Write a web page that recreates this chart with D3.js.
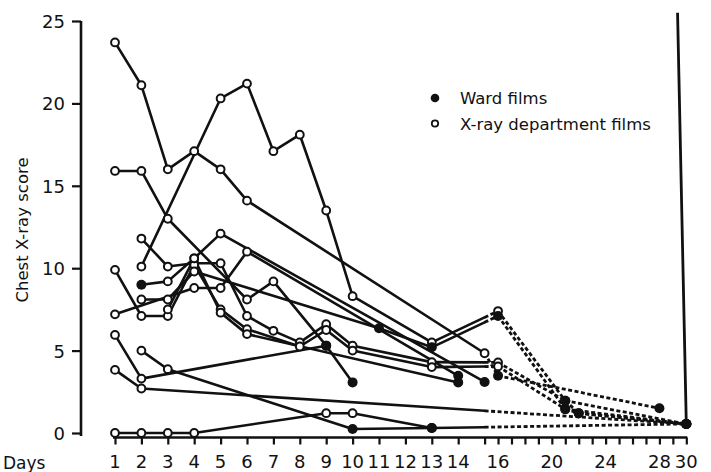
<!DOCTYPE html>
<html>
<head>
<meta charset="utf-8">
<script src="https://cdn.jsdelivr.net/npm/d3@7"></script>
<style>
  body { margin: 0; background: #fff; }
  svg text { font-family: "DejaVu Sans", sans-serif; fill: #111; }
</style>
</head>
<body>
<div id="chart"></div>
<script>
// one array per patient: [day, score, film]  ('w' = ward film, 'x' = X-ray department film)
const p1  = [[1,23.7,'x'],[2,21.1,'x'],[3,16.0,'x'],[4,17.1,'x'],[5,16.0,'x'],[6,14.1,'x'],[15,4.84,'x'],[16,3.47,'w'],[28,1.5,'w']];
const p2  = [[1,15.9,'x'],[2,15.9,'x'],[3,13.0,'x'],[6,8.1,'x'],[7,9.2,'x'],[9,5.3,'w'],[10,3.07,'w']];
const p3  = [[2,10.1,'x'],[5,20.3,'x'],[6,21.2,'x'],[7,17.1,'x'],[8,18.1,'x'],[9,13.5,'x'],[10,8.3,'x'],[13,5.5,'x'],[16,7.4,'x'],[21,1.96,'w'],[22,1.2,'w'],[30,0.55,'w']];
const p4  = [[2,11.8,'x'],[3,10.1,'x'],[4,10.3,'x'],[5,10.3,'x'],[6,7.1,'x'],[7,6.2,'x'],[8,5.5,'x'],[9,6.6,'x'],[10,5.3,'x'],[13,4.3,'x'],[16,4.28,'x'],[21,1.96,'w'],[30,0.55,'w']];
const p5  = [[1,9.9,'x'],[2,7.1,'x'],[3,7.1,'x'],[4,10.2,'x'],[5,7.5,'x'],[6,6.3,'x'],[8,5.25,'x'],[9,6.25,'x'],[10,5.0,'x'],[13,4.0,'x'],[16,4.04,'x'],[21,1.45,'w'],[22,1.2,'w'],[30,0.55,'w']];
const p6  = [[2,9.0,'w'],[3,9.2,'x'],[4,10.6,'x'],[5,12.1,'x'],[15,3.1,'w']];
const p7  = [[2,8.1,'x'],[3,8.1,'x'],[4,9.8,'x'],[11,6.36,'w'],[13,5.2,'w'],[16,7.1,'w'],[21,1.45,'w'],[30,0.55,'w']];
const p8  = [[3,7.5,'x'],[4,10.6,'x'],[5,7.3,'x'],[6,6.0,'x'],[14,3.07,'w']];
const p9  = [[1,7.2,'x'],[4,8.8,'x'],[5,8.8,'x'],[6,11.0,'x'],[14,3.47,'w']];
const p10 = [[1,5.95,'x'],[2,3.3,'x'],[9,5.3,'w']];
const p11 = [[2,5.0,'x'],[3,3.87,'x'],[10,0.24,'w'],[13,0.3,'w']];
const p12 = [[1,3.83,'x'],[2,2.7,'x'],[30,0.55,'w']];
const p13 = [[1,0,'x'],[2,0,'x'],[3,0,'x'],[4,0,'x'],[9,1.2,'x'],[10,1.2,'x'],[13,0.3,'w'],[30,0.55,'w']];

const patients = [p1,p2,p3,p4,p5,p6,p7,p8,p9,p10,p11,p12,p13];

const dayTicks = d3.range(1, 31);
const dayLabels = [1,2,3,4,5,6,7,8,9,10,11,12,13,14,16,20,24,28,30];
const scoreTicks = [0,5,10,15,20,25];
const legendItems = [{film:'w', label:'Ward films'}, {film:'x', label:'X-ray department films'}];

const width = 711, height = 472;
const dashFrom = 15; // segments past this day are drawn dashed

const svg = d3.select('#chart')
              .append('svg')
              .attr('width', width)
              .attr('height', height);

// time axis is stretched for the first fortnight, compressed after
let x = d3.scaleLinear().domain([1, 15, 30]).range([115, 484.6, 686.3]);
let y = d3.scaleLinear().domain([0, 25]).range([433, 21]);

// y axis
let yAxis = d3.axisLeft(y).tickValues(scoreTicks).tickSize(9).tickPadding(7);
let yAxisGroup = svg.append('g')
                    .attr('transform', 'translate(81,0)')
                    .call(yAxis);
yAxisGroup.select('.domain').attr('d', 'M0,' + y(25) + 'V' + (y(0) + 3));
yAxisGroup.selectAll('line').attr('stroke', '#111').attr('stroke-width', 2.2);
yAxisGroup.select('.domain').attr('stroke', '#111').attr('stroke-width', 2.6);
yAxisGroup.selectAll('text').style('font-size', '18px').attr('dy', '0.36em');

// x axis
let xAxis = d3.axisBottom(x).tickValues(dayTicks).tickSize(7).tickFormat('');
let xAxisGroup = svg.append('g')
                    .attr('transform', 'translate(0,' + (y(0) + 4.5) + ')')
                    .call(xAxis);
xAxisGroup.select('.domain').attr('d', 'M' + (x(1) - 2) + ',0H' + (x(30) + 1))
          .attr('stroke', '#111').attr('stroke-width', 2.6);
xAxisGroup.selectAll('line').attr('stroke', '#111').attr('stroke-width', 2.2);

svg.append('g').selectAll('text')
   .data(dayLabels)
   .enter().append('text')
   .attr('x', d => x(d))
   .attr('y', 468)
   .attr('text-anchor', 'middle')
   .style('font-size', '18px')
   .text(d => d);

svg.append('text')
   .attr('x', 3)
   .attr('y', 469)
   .style('font-size', '17px')
   .text('Days');

// y axis title
svg.append('text')
   .attr('transform', 'translate(28,230) rotate(-90)')
   .attr('text-anchor', 'middle')
   .style('font-size', '16.5px')
   .text('Chest X-ray score');

// right hand frame line
svg.append('line')
   .attr('x1', x(29.35)).attr('y1', y(25.5))
   .attr('x2', x(30)).attr('y2', y(0.55))
   .attr('stroke', '#111')
   .attr('stroke-width', 2.8);

// lines, split into solid and dashed parts
let solid = [], dashed = [];
patients.forEach(p => {
    for (let i = 1; i < p.length; i++) {
        let a = p[i-1], b = p[i];
        let ax = x(a[0]), ay = y(a[1]), bx = x(b[0]), by = y(b[1]);
        if (b[0] <= dashFrom) {
            solid.push([ax, ay, bx, by]);
        } else if (a[0] >= dashFrom) {
            dashed.push([ax, ay, bx, by]);
        } else {
            let mx = x(dashFrom);
            let my = ay + (mx - ax) / (bx - ax) * (by - ay);
            solid.push([ax, ay, mx, my]);
            dashed.push([mx, my, bx, by]);
        }
    }
});

svg.append('g').selectAll('line')
   .data(solid)
   .enter().append('line')
   .attr('x1', d => d[0]).attr('y1', d => d[1])
   .attr('x2', d => d[2]).attr('y2', d => d[3])
   .attr('stroke', '#111')
   .attr('stroke-width', 2.6)
   .attr('stroke-linecap', 'round');

svg.append('g').selectAll('line')
   .data(dashed)
   .enter().append('line')
   .attr('x1', d => d[0]).attr('y1', d => d[1])
   .attr('x2', d => d[2]).attr('y2', d => d[3])
   .attr('stroke', '#111')
   .attr('stroke-width', 2.8)
   .attr('stroke-dasharray', '4,2.5');

// markers
let points = [];
patients.forEach(p => p.forEach(d => points.push(d)));

svg.append('g').selectAll('circle')
   .data(points)
   .enter().append('circle')
   .attr('cx', d => x(d[0]))
   .attr('cy', d => y(d[1]))
   .attr('r', d => d[2] == 'w' ? 5 : 3.9)
   .style('fill', d => d[2] == 'w' ? '#111' : '#fff')
   .style('stroke', '#111')
   .style('stroke-width', d => d[2] == 'w' ? 0 : 2);

// legend
let legend = svg.append('g').attr('transform', 'translate(435,98)');
legend.selectAll('circle')
      .data(legendItems)
      .enter().append('circle')
      .attr('cx', 0)
      .attr('cy', (d, i) => i * 25.5)
      .attr('r', d => d.film == 'w' ? 4.3 : 3.2)
      .style('fill', d => d.film == 'w' ? '#111' : '#fff')
      .style('stroke', '#111')
      .style('stroke-width', d => d.film == 'w' ? 0 : 1.8);
legend.selectAll('text')
      .data(legendItems)
      .enter().append('text')
      .attr('x', 25)
      .attr('y', (d, i) => i * 25.5 + 6)
      .style('font-size', '16.5px')
      .text(d => d.label);
</script>
</body>
</html>
